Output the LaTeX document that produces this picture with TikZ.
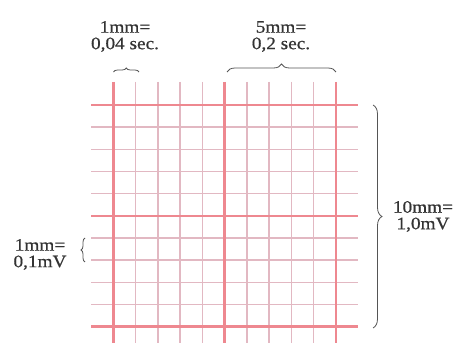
\documentclass[tikz,border=0pt]{standalone}
\usepackage{fontspec}
\setmainfont{Liberation Serif}[FakeStretch=1.1,FakeBold=0.6]
\usetikzlibrary{decorations.pathreplacing}
\definecolor{gridthick}{HTML}{EE8890}
\definecolor{gridthin}{HTML}{E2B8C2}
\definecolor{bracecol}{HTML}{555555}
\begin{document}
\begin{tikzpicture}[x=1pt,y=1pt,
  thinline/.style={gridthin,line width=1.4pt},
  thickline/.style={gridthick,line width=2.6pt},
  bracestyle/.style={bracecol,line width=0.8pt,decorate,decoration={brace,amplitude=#1}},
  lab/.style={align=center,font=\fontsize{17.5}{16.5}\selectfont,text=black!80,inner sep=0pt}]
\useasboundingbox (0,0) rectangle (456,343);
\fill[white] (0,0) rectangle (456,343);
% grid
\foreach \i in {1,2,3,4,6,7,8,9}{
  \draw[thinline] ({113.3+22.27*\i},261) -- ({113.3+22.27*\i},0);
  \draw[thinline] (91,{238-22.17*\i}) -- (358,{238-22.17*\i});
}
\foreach \i in {0,5,10}{
  \draw[thickline] ({113.3+22.27*\i},261) -- ({113.3+22.27*\i},0);
  \draw[thickline] (91,{238-22.17*\i}) -- (358,{238-22.17*\i});
}
% brace end points
\coordinate (tsa) at (113.5,271);
\coordinate (tsb) at (139,271);
\coordinate (tba) at (227,271);
\coordinate (tbb) at (336,271);
\coordinate (ra) at (373,238);
\coordinate (rb) at (373,15);
\coordinate (la) at (85,81);
\coordinate (lb) at (85,105);
\draw[bracestyle=4] (tsa) -- (tsb);
\draw[bracestyle=8] (tba) -- (tbb);
\draw[bracestyle=9] (ra) -- (rb);
\draw[bracestyle=4] (la) -- (lb);
% labels
\node[lab] (l1) at (125,306.5) {1mm=\\0,04 sec.};
\node[lab] (l2) at (281,306.5) {5mm=\\0,2 sec.};
\node[lab] (l3) at (40,88.5) {1mm=\\0,1mV};
\node[lab] (l4) at (423,126.5) {10mm=\\1,0mV};
\end{tikzpicture}
\end{document}
